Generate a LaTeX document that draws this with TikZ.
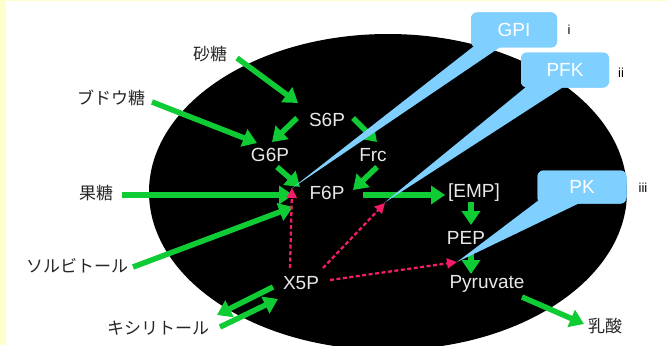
\documentclass[tikz,border=0pt]{standalone}
\usepackage{fontspec}
\setmainfont{Liberation Sans}
\newfontfamily\jp{Noto Sans CJK JP}
\usetikzlibrary{arrows.meta,calc}
\definecolor{bgy}{HTML}{FFFFCC}
\definecolor{grn}{HTML}{0FCC35}
\definecolor{rd}{HTML}{F21C68}
\definecolor{cb}{HTML}{7FCFFF}
\definecolor{lbl}{HTML}{E8E8E8}
\begin{document}
\begin{tikzpicture}[x=1pt,y=-1pt,
 inlbl/.style={text=lbl,font=\fontsize{19}{20}\selectfont,inner sep=0pt},
 outlbl/.style={text=black!85,font=\jp\fontsize{17}{18}\selectfont,inner sep=0pt},
 garrow/.style={draw=grn,line width=5.5pt,-{Triangle[length=14pt,width=18pt]}},
 rarrow/.style={draw=rd,line width=2.3pt,dash pattern=on 4pt off 2.5pt,-{Triangle[length=10pt,width=10pt]}},
 callbox/.style={fill=cb,rounded corners=6pt,minimum width=86pt,minimum height=35pt,text=white,font=\fontsize{19}{20}\selectfont,inner sep=0pt},
 tagtxt/.style={font=\fontsize{13}{14}\selectfont,inner sep=0pt},
 tail/.style={fill=cb}]
\useasboundingbox (0,0) rectangle (668,345);
\clip (0,0) rectangle (668,345);
\fill[bgy] (0,0) rectangle (668,345);
\fill[white] (6,1.5) rectangle (668,345);
\fill[black] (388,192) ellipse [x radius=239, y radius=158];

% text nodes
\node[outlbl] (sato) at (210,54) {砂糖};
\node[outlbl] (budo) at (111,98) {ブドウ糖};
\node[outlbl] (katou) at (96,193) {果糖};
\node[outlbl] (sorb) at (77,266) {ソルビトール};
\node[outlbl] (xylit) at (158,328) {キシリトール};
\node[outlbl] (nyu) at (605,326) {乳酸};
\node[inlbl] (s6p) at (327,120) {S6P};
\node[inlbl] (g6p) at (270,155) {G6P};
\node[inlbl] (frc) at (373,155) {Frc};
\node[inlbl] (f6p) at (327,193) {F6P};
\node[inlbl] (emp) at (474,193) {[EMP]};
\node[inlbl] (pep) at (466,238) {PEP};
\node[inlbl] (pyr) at (487,284) {Pyruvate};
\node[inlbl] (x5p) at (301,283) {X5P};

% arrow end points
\coordinate (a1s) at (237,58);  \coordinate (a1e) at (298,103);
\coordinate (a2s) at (152,102); \coordinate (a2e) at (257,143);
\coordinate (a3s) at (297,118); \coordinate (a3e) at (272,142);
\coordinate (a4s) at (353,118); \coordinate (a4e) at (377,142);
\coordinate (a5s) at (277,167); \coordinate (a5e) at (300,187);
\coordinate (a6s) at (377,167); \coordinate (a6e) at (353,190);
\coordinate (a7s) at (122,195); \coordinate (a7e) at (293,195);
\coordinate (a8s) at (133,267); \coordinate (a8e) at (293,207);
\coordinate (a9s) at (363,195); \coordinate (a9e) at (445,195);
\coordinate (a10s) at (471,202); \coordinate (a10e) at (471,225);
\coordinate (a11s) at (471,254); \coordinate (a11e) at (471,274);
\coordinate (a12s) at (522,297); \coordinate (a12e) at (584,324);
\coordinate (a13s) at (273,287); \coordinate (a13e) at (217,315);
\coordinate (a14s) at (220,327); \coordinate (a14e) at (278,299);
\coordinate (r1s) at (290,268); \coordinate (r1e) at (292,188);
\coordinate (r2s) at (323,268); \coordinate (r2e) at (385,203);
\coordinate (r3s) at (330,280); \coordinate (r3e) at (457,262);

% green arrows
\draw[garrow] (a1s) -- (a1e);
\draw[garrow] (a2s) -- (a2e);
\draw[garrow] (a3s) -- (a3e);
\draw[garrow] (a4s) -- (a4e);
\draw[garrow] (a5s) -- (a5e);
\draw[garrow] (a6s) -- (a6e);
\draw[garrow] (a7s) -- (a7e);
\draw[garrow] (a8s) -- (a8e);
\draw[garrow] (a9s) -- (a9e);
\draw[garrow] (a10s) -- (a10e);
\draw[garrow] (a11s) -- (a11e);
\draw[garrow] (a12s) -- (a12e);
\draw[garrow] (a13s) -- (a13e);
\draw[garrow] (a14s) -- (a14e);

% red dashed arrows
\draw[rarrow] (r1s) -- (r1e);
\draw[rarrow] (r2s) -- (r2e);
\draw[rarrow] (r3s) -- (r3e);

% callouts
\node[callbox] (gpi) at (514,30) {GPI};
\node[callbox,minimum width=88pt] (pfk) at (565,70) {PFK};
\node[callbox,minimum width=89pt,minimum height=33pt] (pk) at (582,187) {PK};
\coordinate (tipG) at (291,189);
\coordinate (tipF) at (384,203);
\coordinate (tipK) at (457,262);
\fill[tail] ($(gpi.south west)+(5,-3)$) -- (tipG) -- ($(gpi.south west)+(30,-1)$) -- cycle;
\fill[tail] ($(pfk.south west)+(8,-3)$) -- (tipF) -- ($(pfk.south west)+(43,-1)$) -- cycle;
\fill[tail] ($(pk.south west)+(2,-4)$) -- (tipK) -- ($(pk.south west)+(43,-1)$) -- cycle;
\node[callbox] at (gpi) {GPI};
\node[callbox,minimum width=88pt] at (pfk) {PFK};
\node[callbox,minimum width=89pt,minimum height=33pt] at (pk) {PK};
\node[tagtxt] (ti) at (569,30) {i};
\node[tagtxt] (tii) at (621,73) {ii};
\node[tagtxt] (tiii) at (643,188) {iii};
\end{tikzpicture}
\end{document}
